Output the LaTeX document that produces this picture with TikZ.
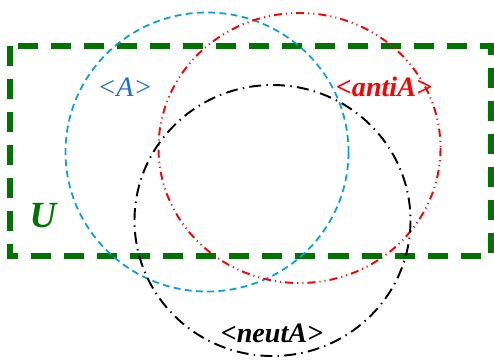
\documentclass[tikz,border=0pt]{standalone}
\usepackage{fontspec}
\setmainfont{Liberation Serif}
\usepackage{tikz}

\definecolor{ugreen}{RGB}{0,115,0}
\definecolor{acirc}{RGB}{0,160,235}
\definecolor{atext}{RGB}{20,110,215}

\begin{document}
\begin{tikzpicture}[x=0.02cm, y=-0.02cm,
  lbl/.style={font=\fontsize{16}{19}\selectfont\bfseries\itshape, inner sep=0pt},
  uframe/.style={draw=ugreen, line width=3pt, dash pattern=on 11.4pt off 7.4pt},
  setA/.style={draw=acirc, line width=1pt, dash pattern=on 3.9pt off 2.5pt},
  setanti/.style={draw=red, line width=1.1pt, dash pattern=on 4.6pt off 2.3pt on 0.6pt off 2.3pt on 0.6pt off 2.3pt},
  setneut/.style={draw=black, line width=1.1pt, dash pattern=on 6.8pt off 3pt on 0.8pt off 3pt}]

% --- page size ---
\useasboundingbox (0,0) rectangle (494,363);

% --- universe ---
\draw[uframe] (10,46) rectangle (491,256);
\node[lbl, text=ugreen, font=\fontsize{21}{24}\selectfont\bfseries\itshape] (U) at (43,216) {U};

% --- the three sets ---
\draw[setA]    (207,152) ellipse [x radius=141.5, y radius=139.5];
\draw[setanti] (299.5,148) ellipse [x radius=141, y radius=135];
\draw[setneut] (272.5,220.5) ellipse [x radius=138, y radius=135.5];

% --- labels ---
\node[lbl, text=atext, font=\fontsize{16}{19}\selectfont\itshape] (A) at (125,87) {<A>};
\node[lbl, text=red]   (anti) at (384,87) {<antiA>};
\node[lbl, text=black] (neut) at (272,333) {<neutA>};

\end{tikzpicture}
\end{document}
